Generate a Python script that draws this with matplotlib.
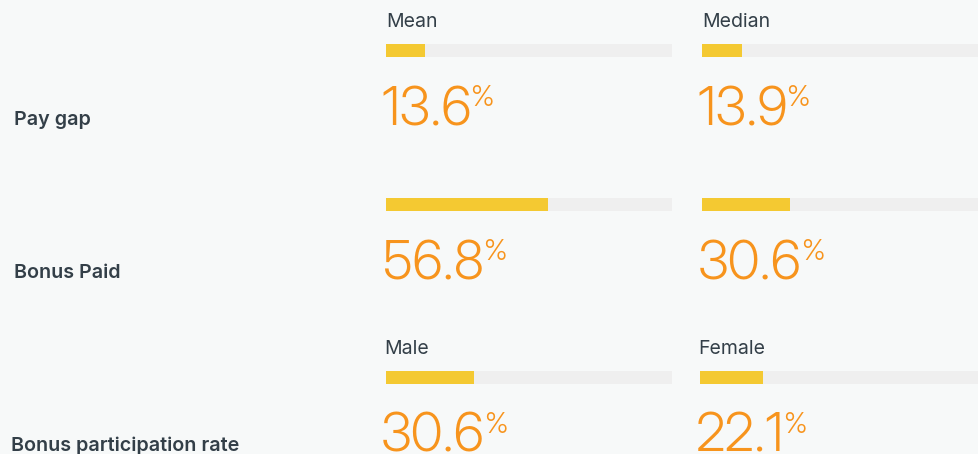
import matplotlib
matplotlib.use("Agg")
import matplotlib.pyplot as plt

# ---- data ----
row_labels = ["Pay gap", "Bonus Paid", "Bonus participation rate"]
col_headers = [["Mean", "Median"], ["", ""], ["Male", "Female"]]
values = [[13.6, 13.9], [56.8, 30.6], [30.6, 22.1]]

# ---- style ----
BG = "#f7f9f9"
TRACK = "#efefef"
FILL = "#f4c932"
NUM = "#f7941d"
TXT = "#333f48"
FAM = ["Inter", "DejaVu Sans"]
NFAM = ["Inter Display", "Inter", "DejaVu Sans"]

W, H = 979, 454
fig = plt.figure(figsize=(W / 100, H / 100), dpi=100, facecolor=BG)
ax = fig.add_axes([0, 0, 1, 1])
ax.set_facecolor(BG)
ax.set_xlim(0, W)
ax.set_ylim(H, 0)
ax.axis("off")

row_bar_top = [44, 198, 371]
row_label_base = [125, 278, 451]
col_x = [[386, 702], [386, 702], [386, 700]]
num_x = [[381, 697], [383, 698], [381, 696]]
bar_h = 13
track_w = 286

renderer = fig.canvas.get_renderer()

for r in range(3):
    ax.text(14 if r < 2 else 11, row_label_base[r], row_labels[r], fontsize=14.2,
            fontweight=600, color=TXT, family=FAM, va="baseline", ha="left")
    for c in range(2):
        x0 = col_x[r][c]
        if col_headers[r][c]:
            ax.text(x0 - (2 if r == 2 else 0), row_bar_top[r] - 17, col_headers[r][c],
                    fontsize=14, color=TXT, family=FAM, va="baseline", ha="left")
        yc = row_bar_top[r] + bar_h / 2
        ax.barh([yc], [track_w], left=[x0], height=bar_h, color=TRACK, lw=0)
        ax.barh([yc], [values[r][c] / 100 * track_w], left=[x0], height=bar_h,
                color=FILL, lw=0)
        t = ax.text(num_x[r][c], row_bar_top[r] + 81, f"{values[r][c]:.1f}",
                    fontsize=38.5, fontweight=300, color=NUM, family=NFAM,
                    va="baseline", ha="left")
        bb = t.get_window_extent(renderer)
        xr = ax.transData.inverted().transform((bb.x1, bb.y1))[0]
        ax.text(xr - 1, row_bar_top[r] + 41, "%", fontsize=20.5, fontweight=300,
                color=NUM, family=NFAM, va="top", ha="left")

fig.savefig("out.png", dpi=100, facecolor=BG)
